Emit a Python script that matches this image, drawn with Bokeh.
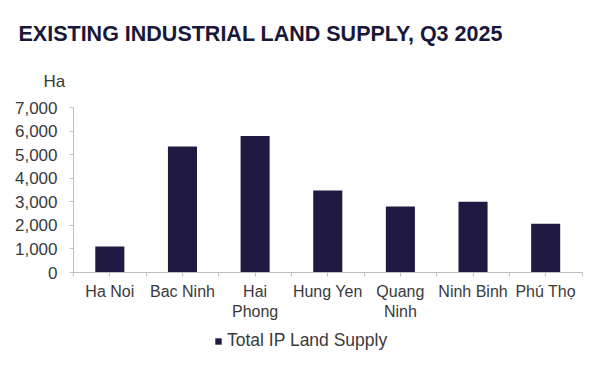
import numpy as np
from bokeh.plotting import figure
from bokeh.models import (Range1d, FixedTicker, SingleIntervalTicker, NumeralTickFormatter,
                          Label, Legend, LegendItem, ColumnDataSource)
from bokeh.embed import file_html
from bokeh.resources import INLINE

# ---- data ----
categories = ["Ha Noi", "Bac Ninh", "Hai\nPhong", "Hung Yen", "Quang\nNinh", "Ninh Binh", "Phú Thọ"]
supply_ha = [1100, 5350, 5800, 3490, 2810, 3010, 2070]
series_name = "Total IP Land Supply"
title_text = "EXISTING INDUSTRIAL LAND SUPPLY, Q3 2025"
unit_text = "Ha"
y_max = 7000
y_step = 1000

BAR = "#201a42"
AX = "#bfbfbf"
TXT = "#3a3a3a"
FONT = "Liberation Sans"

# ---- layout (pixels) ----
W, H = 600, 362
AX_LEFT, AX_RIGHT = 73.0, 581.5      # x-axis extent
Y0_PX, YTOP_PX = 272.0, 107.3         # pixel rows of 0 and y_max

n = len(categories)
ppu_x = (AX_RIGHT - AX_LEFT) / n
ppu_y = (Y0_PX - YTOP_PX) / y_max
x_start = -AX_LEFT / ppu_x
x_end = (W - AX_LEFT) / ppu_x
y_start = -(H - Y0_PX) / ppu_y
y_end = Y0_PX / ppu_y

centers = [i + 0.5 for i in range(n)]
bounds = [float(i) for i in range(n + 1)]

p = figure(width=W, height=H, output_backend="svg", toolbar_location=None,
           x_range=Range1d(x_start, x_end), y_range=Range1d(y_start, y_end),
           min_border=0, min_border_left=0, min_border_right=0,
           min_border_top=0, min_border_bottom=0)
p.outline_line_color = None
p.xgrid.visible = False
p.ygrid.visible = False
p.background_fill_color = "white"
p.border_fill_color = "white"

src = ColumnDataSource(dict(x=centers, top=supply_ha))
r = p.vbar(x="x", top="top", width=0.40, bottom=0, source=src,
           fill_color=BAR, line_color=None)

# x axis
xa = p.xaxis[0]
xa.fixed_location = 0
xa.bounds = (0, n)
xa.ticker = FixedTicker(ticks=centers, minor_ticks=bounds)
xa.major_label_overrides = {c: lab for c, lab in zip(centers, categories)}
xa.axis_line_color = AX
xa.major_tick_line_color = AX
xa.minor_tick_line_color = AX
xa.major_tick_out = 4
xa.major_tick_in = 0
xa.minor_tick_out = 4
xa.minor_tick_in = 0
xa.major_label_standoff = 6
xa.major_label_text_font = FONT
xa.major_label_text_font_size = "16px"
xa.major_label_text_color = TXT

# y axis
ya = p.yaxis[0]
ya.fixed_location = 0
ya.bounds = (0, y_max)
ya.ticker = SingleIntervalTicker(interval=y_step)
ya.formatter = NumeralTickFormatter(format="0,0")
ya.axis_line_color = AX
ya.major_tick_line_color = AX
ya.minor_tick_line_color = None
ya.major_tick_out = 4
ya.major_tick_in = 0
ya.major_label_standoff = 12
ya.major_label_text_font = FONT
ya.major_label_text_font_size = "17px"
ya.major_label_text_color = TXT

# title and unit
p.add_layout(Label(x=18, y=H - 33, x_units="screen", y_units="screen", text=title_text,
                   text_font=FONT, text_font_size="21.5px", text_font_style="bold",
                   text_color="#19173a", text_baseline="alphabetic"))
p.add_layout(Label(x=43, y=H - 81, x_units="screen", y_units="screen", text=unit_text,
                   text_font=FONT, text_font_size="17px",
                   text_color=TXT, text_baseline="alphabetic"))

legend = Legend(items=[LegendItem(label=series_name, renderers=[r])],
                location=(214, H - 351), orientation="horizontal",
                glyph_width=8, glyph_height=8, label_height=8, label_standoff=5,
                padding=0, margin=0, spacing=0,
                label_text_font=FONT, label_text_font_size="17.5px", label_text_color=TXT,
                border_line_color=None, background_fill_alpha=0)
p.add_layout(legend, "center")

open("out.html", "w").write(file_html(p, INLINE))
